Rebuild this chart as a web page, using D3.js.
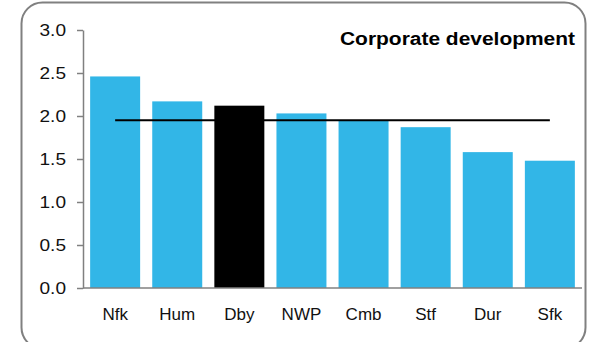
<!DOCTYPE html>
<html><head><meta charset="utf-8">
<script src="https://cdn.jsdelivr.net/npm/d3@7"></script>
<style>body{margin:0;background:#fff}svg{display:block}text{font-family:"Liberation Sans",Arial,sans-serif}</style>
</head><body>
<svg id="c" width="594" height="342"></svg>
<script>
const categories = ["Nfk","Hum","Dby","NWP","Cmb","Stf","Dur","Sfk"];
const values = [2.46,2.17,2.12,2.03,1.95,1.87,1.58,1.48];
const highlight = ["Dby"];
const averageValue = [1.95];
const yTicks = [0,0.5,1.0,1.5,2.0,2.5,3.0];
const title = "Corporate development";

const svg = d3.select("#c");
svg.append("rect").attr("x",21.5).attr("y",2.5).attr("width",564).attr("height",346)
  .attr("rx",21).attr("ry",21).attr("fill","none").attr("stroke","#808080").attr("stroke-width",2);

const x = d3.scaleBand().domain(categories).range([83,582]).paddingInner(0.195).paddingOuter(0.115);
const y = d3.scaleLinear().domain([0,3]).range([288,30]);

svg.selectAll("rect.bar").data(categories).enter().append("rect").attr("class","bar")
  .attr("x",d=>x(d)).attr("width",x.bandwidth())
  .attr("y",(d,i)=>y(values[i])).attr("height",(d,i)=>y(0)-y(values[i]))
  .attr("fill",d=>highlight.includes(d)?"#000000":"#32b6e7");

const yAxis = svg.append("g").attr("transform","translate(83,0)")
  .call(d3.axisLeft(y).tickValues(yTicks).tickFormat(d3.format(".1f")).tickSize(6).tickSizeOuter(0));
yAxis.select(".domain").attr("stroke","#808080").attr("stroke-width",1.5);
yAxis.selectAll(".tick line").attr("stroke","#808080").attr("stroke-width",1.5);
yAxis.selectAll(".tick text").attr("font-size",17).attr("fill","#111").attr("x",-17).attr("dy","0.35em")
  .attr("textLength",26.5).attr("lengthAdjust","spacingAndGlyphs")
  .style("font-family","Liberation Sans, Arial, sans-serif");

const xAxis = svg.append("g").attr("transform","translate(0,288)")
  .call(d3.axisBottom(x).tickSize(0).tickPadding(20));
xAxis.select(".domain").attr("stroke","#808080").attr("stroke-width",1.5).attr("d","M83,0H582");
xAxis.selectAll(".tick text").attr("font-size",17).attr("fill","#111")
  .style("font-family","Liberation Sans, Arial, sans-serif");

const first = categories[0], last = categories[categories.length-1];
svg.append("line")
  .attr("x1",x(first)+x.bandwidth()/2).attr("x2",x(last)+x.bandwidth()/2)
  .attr("y1",y(averageValue[0])).attr("y2",y(averageValue[0]))
  .attr("stroke","#000").attr("stroke-width",2);

svg.append("text").attr("x",575).attr("y",45).attr("text-anchor","end")
  .attr("font-size",18).attr("font-weight","bold").attr("fill","#000")
  .attr("textLength",235).attr("lengthAdjust","spacingAndGlyphs").text(title);
</script>
</body></html>
